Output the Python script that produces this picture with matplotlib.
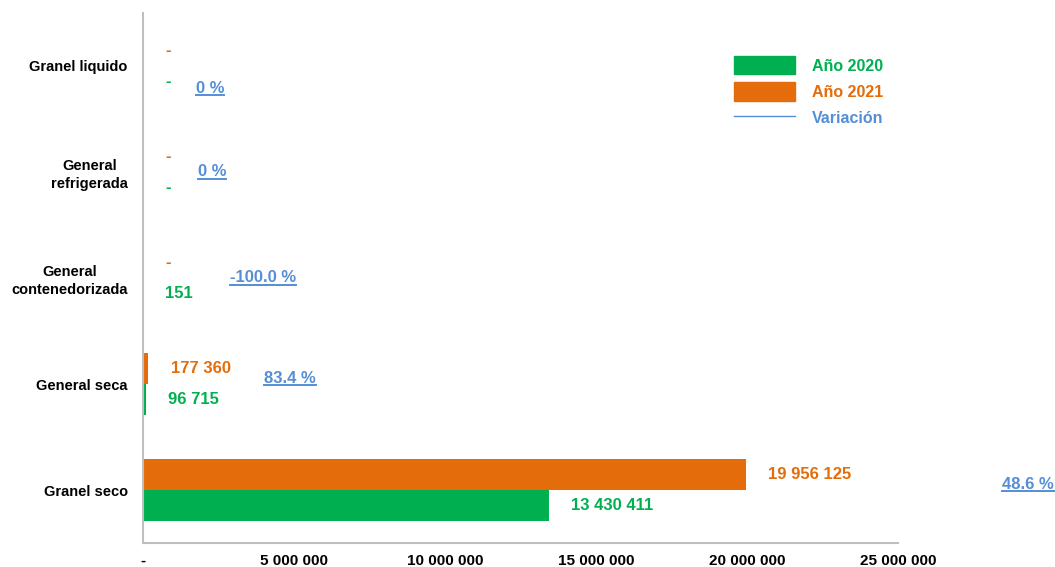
import matplotlib
matplotlib.use('Agg')
import matplotlib.pyplot as plt
from matplotlib.patches import Patch
from matplotlib.lines import Line2D


CATEGORIAS = ['Granel seco', 'General seca', 'General\ncontenedorizada',
              'General\nrefrigerada', 'Granel liquido']
ANIO_2020 = [13430411, 96715, 151, 0, 0]
ANIO_2021 = [19956125, 177360, 0, 0, 0]
XTICKS = [0, 5000000, 10000000, 15000000, 20000000, 25000000]

# where the variation labels sit (x in data units, y shift in points)
VAR_X = [29300000, 4870000, 3970000, 2280000, 2220000]
VAR_DY = [4, 4, 0, 0, -16]

VERDE = '#00b050'
NARANJA = '#e46c0a'
AZUL = '#558ed5'
GRIS = '#bfbfbf'
FONT = 'Liberation Sans'


def fmt(v):
    if v == 0:
        return '-'
    return '{:,}'.format(v).replace(',', ' ')


def variacion(a, b):
    if a == 0:
        return '0 %'
    return '{:.1f} %'.format((b / a - 1) * 100)


def main():
    plt.rcParams['font.family'] = FONT
    fig = plt.figure(figsize=(10.55, 5.67), dpi=100)
    ax = fig.add_axes([143 / 1055, 24 / 567, 755 / 1055, 530 / 567])

    h = 0.29
    y = list(range(len(CATEGORIAS)))
    b20 = ax.barh([i - h / 2 for i in y], ANIO_2020, height=h, color=VERDE)
    b21 = ax.barh([i + h / 2 for i in y], ANIO_2021, height=h, color=NARANJA)
    ax.bar_label(b20, labels=[fmt(v) for v in ANIO_2020], padding=16,
                 color=VERDE, fontsize=12, fontweight='bold')
    ax.bar_label(b21, labels=[fmt(v) for v in ANIO_2021], padding=16,
                 color=NARANJA, fontsize=12, fontweight='bold')

    var_txt = []
    for i in y:
        t = ax.annotate(variacion(ANIO_2020[i], ANIO_2021[i]),
                        xy=(VAR_X[i], i), xytext=(0, VAR_DY[i]),
                        textcoords='offset points', ha='center',
                        va='center', color=AZUL, fontsize=12,
                        fontweight='bold', annotation_clip=False)
        var_txt.append(t)

    ax.set_xlim(0, 25000000)
    ax.set_ylim(-0.5, 4.5)
    ax.set_xticks(XTICKS)
    ax.set_xticklabels([fmt(v) for v in XTICKS], fontsize=11,
                       fontweight='bold')
    ax.set_yticks(y)
    ax.set_yticklabels(CATEGORIAS, fontsize=10.5, fontweight='bold',
                       linespacing=1.3)
    for lbl in ax.get_yticklabels():
        lbl.set_multialignment('center')
    ax.tick_params(axis='x', length=0, pad=8)
    ax.tick_params(axis='y', length=0, pad=11)
    for s in ('top', 'right'):
        ax.spines[s].set_visible(False)
    for s in ('left', 'bottom'):
        ax.spines[s].set_color(GRIS)
        ax.spines[s].set_linewidth(1.5)

    handles = [Patch(color=VERDE), Patch(color=NARANJA),
               Line2D([], [], color=AZUL, linewidth=1)]
    leg = ax.legend(handles, ['Año 2020', 'Año 2021', 'Variación'],
                    loc='upper left', bbox_to_anchor=(734 / 1055, 1 - 56 / 567),
                    bbox_transform=fig.transFigure, frameon=False,
                    handlelength=3.8, handleheight=1.4, handletextpad=1.1,
                    labelspacing=0.5, borderpad=0, borderaxespad=0,
                    prop={'family': FONT, 'weight': 'bold', 'size': 11.5})
    for t, c in zip(leg.get_texts(), [VERDE, NARANJA, AZUL]):
        t.set_color(c)

    # underline the variation labels
    fig.canvas.draw()
    r = fig.canvas.get_renderer()
    W, H = fig.bbox.width, fig.bbox.height
    for t in var_txt:
        bb = t.get_window_extent(r)
        yy = (bb.y0 + 0.5) / H
        fig.add_artist(Line2D([bb.x0 / W, bb.x1 / W], [yy, yy],
                              color=AZUL, linewidth=1.4,
                              transform=fig.transFigure))

    fig.savefig('out.png', dpi=100)


if __name__ == '__main__':
    main()
